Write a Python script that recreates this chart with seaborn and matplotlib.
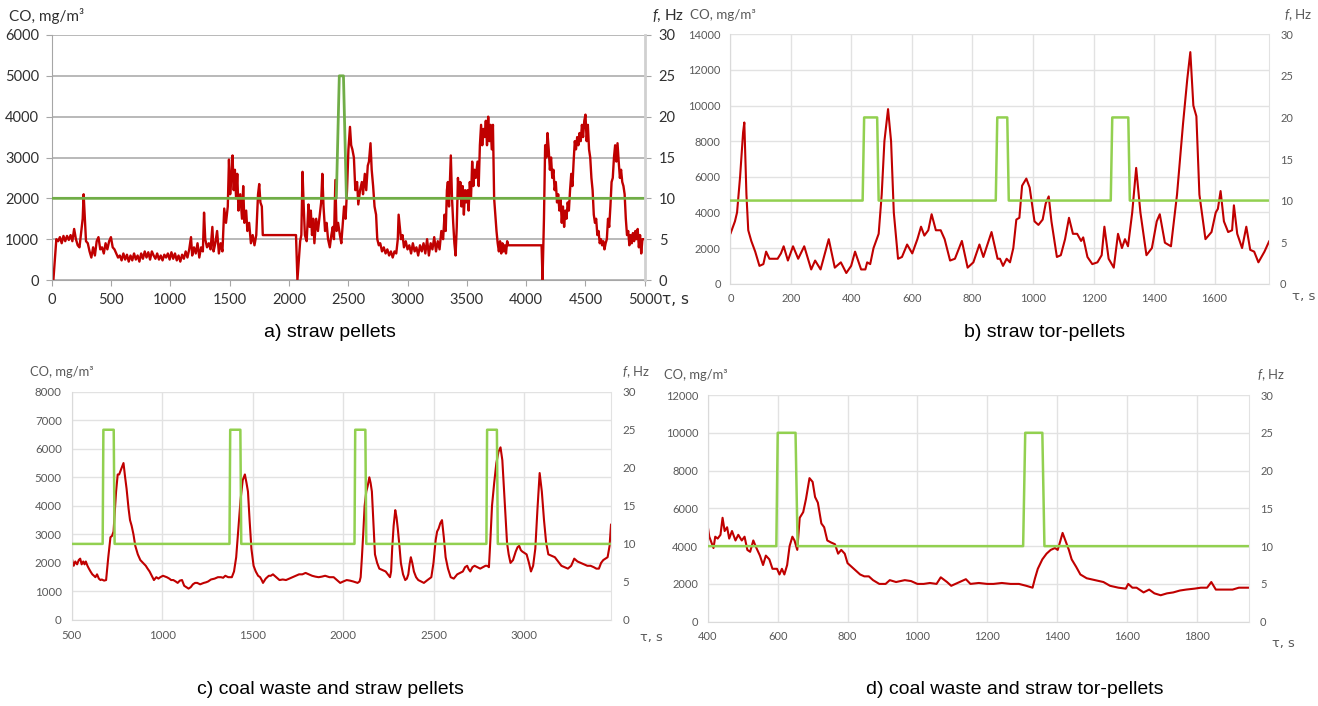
import matplotlib
matplotlib.use("Agg")
import matplotlib.pyplot as plt
import seaborn as sns
import pandas as pd

# ---------------- data (time s, CO mg/m3) ----------------
A_CO = [(0,0),(15,0),(40,1000),(55,950),(70,1050),(85,900),(100,1080),(115,950),(130,1080),(145,980),
(160,1100),(175,950),(190,1250),(205,1000),(220,850),(235,800),(250,1200),(262,1500),(270,2100),(280,1500),
(290,950),(305,900),(320,700),(335,550),(350,800),(365,600),(380,950),(395,1050),(410,750),(425,800),
(440,650),(455,900),(470,750),(485,950),(500,1050),(515,800),(530,750),(545,650),(560,550),(575,600),
(590,480),(605,650),(620,500),(635,620),(650,450),(665,600),(680,480),(695,650),(710,500),(725,600),
(740,450),(755,650),(770,520),(785,700),(800,550),(815,680),(830,500),(845,700),(860,600),(875,520),
(890,650),(905,500),(920,600),(935,480),(950,620),(965,550),(980,650),(995,500),(1010,680),(1025,520),
(1040,650),(1055,480),(1070,600),(1085,450),(1100,620),(1115,520),(1130,700),(1145,550),(1160,750),(1175,1050),
(1185,600),(1200,800),(1215,650),(1230,900),(1245,550),(1260,800),(1275,700),(1285,1650),(1295,1000),(1310,800),
(1325,900),(1340,750),(1355,1300),(1365,700),(1380,900),(1395,1200),(1410,650),(1425,900),(1440,700),(1455,1750),
(1470,1400),(1485,1800),(1495,2950),(1505,2100),(1515,2500),(1525,3050),(1535,2200),(1545,2700),(1555,2000),(1565,2600),
(1575,1700),(1590,2100),(1605,1500),(1615,2300),(1625,1400),(1640,1700),(1650,1200),(1665,1400),(1680,900),(1695,1100),
(1710,850),(1725,1100),(1740,2100),(1750,2350),(1760,1900),(1772,1800),(1780,1100),(2060,1100),(2072,0),(2095,950),
(2105,1100),(2115,2650),(2125,1800),(2135,1100),(2150,950),(2165,1850),(2175,1300),(2185,1700),(2195,1100),(2205,1500),
(2215,900),(2230,1500),(2245,1200),(2260,1600),(2272,1900),(2282,2600),(2292,1800),(2305,1200),(2318,1400),(2330,1000),
(2345,800),(2358,1100),(2370,1300),(2380,1000),(2392,2450),(2402,1200),(2415,1400),(2430,1100),(2442,900),(2455,1400),
(2465,1800),(2478,1500),(2490,2200),(2502,3200),(2515,3750),(2525,3300),(2535,3200),(2548,3000),(2560,2200),(2575,2400),
(2585,1850),(2600,2200),(2615,2400),(2625,2100),(2640,2600),(2652,2200),(2665,2800),(2675,2900),(2688,3350),(2698,2700),
(2710,2300),(2722,1800),(2735,1600),(2745,1000),(2758,850),(2770,900),(2785,700),(2800,800),(2815,650),(2830,750),
(2845,600),(2860,700),(2875,550),(2890,700),(2905,650),(2918,1000),(2925,1600),(2935,1300),(2945,1000),(2958,1100),
(2970,800),(2985,950),(3000,750),(3015,850),(3030,650),(3045,900),(3060,700),(3075,800),(3090,600),(3105,850),
(3120,700),(3135,900),(3150,650),(3165,1000),(3180,600),(3195,900),(3210,750),(3225,1050),(3240,700),(3255,950),
(3270,750),(3285,1200),(3300,1000),(3312,1600),(3322,1200),(3332,2200),(3340,2400),(3350,1800),(3365,3050),(3375,2000),
(3385,1400),(3395,900),(3405,600),(3415,1300),(3425,2500),(3435,2000),(3445,2400),(3455,1800),(3465,2300),(3475,1600),
(3485,2200),(3495,1900),(3505,2200),(3515,1700),(3525,2400),(3535,2000),(3545,2900),(3555,2300),(3565,2700),(3575,2500),
(3590,2900),(3600,2300),(3610,3300),(3620,3800),(3630,3300),(3640,3700),(3650,3500),(3660,3900),(3670,3300),(3680,4000),
(3690,3400),(3700,3800),(3710,3200),(3720,3800),(3730,2000),(3740,1600),(3750,1200),(3760,900),(3770,700),(3780,950),
(3790,650),(3800,900),(3810,700),(3820,850),(3830,650),(3840,950),(3850,850),(4130,850),(4138,0),(4150,1500),
(4160,3300),(4170,3000),(4180,3600),(4190,3200),(4200,2700),(4210,3000),(4220,2500),(4230,2700),(4240,2200),(4250,2400),
(4260,1900),(4270,2100),(4280,1700),(4290,2000),(4300,1400),(4310,1800),(4320,1300),(4330,1700),(4340,1500),(4350,1900),
(4360,1700),(4370,2200),(4380,2600),(4390,2300),(4400,2900),(4410,3400),(4420,3200),(4430,3500),(4440,3300),(4450,3600),
(4460,3400),(4470,3800),(4480,3500),(4490,3900),(4500,4050),(4510,3400),(4520,3800),(4530,3200),(4540,3000),(4550,2500),
(4560,2200),(4570,1600),(4580,1400),(4590,1500),(4600,1100),(4610,1200),(4620,900),(4630,1000),(4640,850),(4650,950),
(4660,750),(4670,900),(4680,1000),(4690,1500),(4700,1300),(4710,1800),(4720,2400),(4730,2500),(4740,3000),(4750,3300),
(4760,2900),(4770,3350),(4780,2900),(4790,2500),(4800,2700),(4810,2400),(4820,2300),(4830,2100),(4840,1500),(4850,1100),
(4860,1200),(4870,850),(4880,1100),(4890,900),(4900,1150),(4910,950),(4920,1200),(4930,1000),(4940,1250),(4950,800),
(4960,1100),(4970,650),(4980,1000),(4995,1000)]
A_F = [(0,10),(2400,10),(2425,25),(2460,25),(2485,10),(5000,10)]

B_CO = [(0,2800),(15,3500),(22,4000),(32,6000),(42,8500),(46,9050),(53,5000),(59,3000),(69,2400),(82,1800),
(96,1000),(109,1100),(118,1800),(129,1400),(156,1400),(167,1700),(176,2100),(190,1300),(207,2100),(224,1400),
(244,2100),(267,800),(280,1300),(298,800),(325,2500),(345,900),(365,1200),(383,600),(399,1000),(412,1800),
(432,800),(446,800),(452,1200),(462,1100),(473,2000),(490,2800),(500,5000),(509,8000),(521,9800),(531,8000),
(540,4000),(554,1400),(567,1500),(584,2200),(601,1700),(618,2500),(630,3200),(641,2700),(654,3000),(665,3900),
(679,3000),(695,3000),(708,2500),(726,1300),(742,1400),(765,2400),(784,900),(803,1200),(823,2200),(836,1500),
(863,2900),(883,1400),(891,1400),(901,1000),(913,1400),(924,1200),(935,2000),(945,3600),(955,3700),(964,5500),
(978,5900),(989,5400),(1005,3500),(1018,3300),(1032,3600),(1042,4500),(1052,4900),(1061,3500),(1079,1500),(1092,1600),
(1106,2500),(1119,3700),(1132,2800),(1146,2800),(1159,2400),(1166,2600),(1180,1500),(1196,1100),(1213,1200),(1227,1600),
(1236,3200),(1250,1400),(1267,900),(1281,2800),(1294,2000),(1304,2500),(1314,2100),(1328,4000),(1341,6500),(1355,4000),
(1375,1600),(1393,2000),(1409,3500),(1419,3900),(1436,2300),(1456,2100),(1476,5000),(1496,9000),(1510,11500),(1520,13000),
(1530,10000),(1540,9400),(1550,5000),(1570,2500),(1590,2900),(1604,4000),(1611,4200),(1620,5200),(1631,3500),(1645,2900),
(1658,3000),(1664,4400),(1675,2800),(1691,2000),(1705,3200),(1718,1900),(1731,1800),(1745,1200),(1765,1800),(1781,2400)]
B_F = [(0,10),(437,10),(442,20),(485,20),(490,10),(877,10),(882,20),(915,20),(920,10),
(1257,10),(1262,20),(1315,20),(1320,10),(1780,10)]

C_CO = [(500,2200),(512,1900),(521,2050),(531,1950),(540,2100),(548,2150),(556,1950),(565,2050),(572,1950),(579,2050),
(588,1900),(596,1800),(605,1700),(615,1600),(624,1550),(632,1500),(641,1600),(651,1450),(660,1400),(667,1420),
(680,1380),(691,1400),(703,2200),(715,2900),(724,2950),(732,3100),(746,4500),(755,5100),(763,5100),(775,5300),
(787,5500),(796,5000),(804,4600),(815,3900),(823,3500),(832,3300),(842,3000),(852,2600),(866,2300),(880,2100),
(895,2000),(910,1900),(920,1800),(931,1700),(943,1550),(955,1400),(968,1500),(980,1450),(990,1500),(1005,1550),
(1026,1500),(1040,1450),(1050,1400),(1062,1400),(1075,1350),(1086,1300),(1098,1380),(1110,1400),(1122,1200),(1134,1150),
(1146,1100),(1158,1150),(1170,1250),(1182,1300),(1194,1300),(1210,1250),(1230,1300),(1242,1320),(1254,1350),(1270,1420),
(1290,1450),(1308,1500),(1325,1500),(1337,1480),(1349,1550),(1365,1500),(1385,1500),(1397,1700),(1409,2200),(1421,3200),
(1433,4200),(1445,4900),(1457,5100),(1466,4800),(1474,4500),(1483,3500),(1493,2500),(1505,1900),(1517,1700),(1530,1550),
(1541,1500),(1550,1400),(1557,1300),(1572,1450),(1589,1550),(1600,1550),(1612,1600),(1630,1500),(1648,1400),(1666,1420),
(1684,1400),(1702,1450),(1720,1500),(1738,1550),(1756,1600),(1774,1600),(1792,1650),(1810,1600),(1828,1550),(1846,1520),
(1864,1500),(1882,1520),(1900,1550),(1924,1500),(1947,1500),(1965,1400),(1983,1300),(2000,1350),(2019,1400),(2037,1380),
(2055,1350),(2070,1320),(2079,1300),(2090,1350),(2096,1500),(2103,2200),(2110,3000),(2118,4000),(2127,4500),(2135,4700),
(2144,5000),(2151,4800),(2158,4500),(2166,3500),(2175,2300),(2187,2000),(2199,1800),(2216,1750),(2234,1700),(2246,1600),
(2258,1500),(2264,1700),(2270,2500),(2278,3300),(2287,3850),(2294,3600),(2301,3200),(2310,2600),(2318,2000),(2330,1600),
(2342,1400),(2351,1450),(2359,1600),(2366,1950),(2373,2200),(2381,2000),(2390,1700),(2402,1500),(2414,1400),(2430,1350),
(2445,1300),(2465,1400),(2486,1500),(2498,2000),(2510,2800),(2518,3100),(2526,3200),(2536,3400),(2545,3500),(2555,2900),
(2565,2200),(2578,1800),(2593,1500),(2610,1450),(2629,1600),(2645,1650),(2660,1700),(2672,1850),(2684,1900),(2692,1780),
(2701,1700),(2713,1850),(2725,1900),(2740,1850),(2756,1800),(2770,1850),(2785,1900),(2795,1900),(2804,1850),(2812,2800),
(2821,4000),(2833,4800),(2845,5500),(2857,5900),(2868,6050),(2878,5600),(2888,4500),(2896,3600),(2904,2700),(2913,2300),
(2923,2000),(2937,2100),(2952,2400),(2962,2550),(2971,2600),(2980,2450),(2988,2400),(3000,2350),(3012,2300),(3025,2000),
(3036,1700),(3048,1900),(3060,2500),(3072,3900),(3084,5150),(3096,4500),(3108,3500),(3120,2700),(3132,2300),(3150,2250),
(3168,2200),(3186,2050),(3204,1900),(3222,1850),(3240,1800),(3258,1900),(3275,2150),(3293,2050),(3311,2000),(3329,1950),
(3347,1900),(3365,1900),(3383,1850),(3397,1800),(3411,1800),(3423,2000),(3435,2100),(3447,2150),(3459,2200),(3470,2600),
(3478,3350)]
C_F = [(500,10),(672,10),(676,25),(733,25),(738,10),(1372,10),(1376,25),(1432,25),(1437,10),
(2062,10),(2066,25),(2122,25),(2127,10),(2790,10),(2794,25),(2848,25),(2853,10),(3480,10)]

D_CO = [(400,5000),(404,4500),(410,4200),(416,3900),(421,4500),(428,4400),(436,4600),(442,5500),(448,4800),(455,5000),
(461,4400),(469,4800),(479,4300),(487,4600),(497,4300),(505,4500),(513,3800),(521,3700),(530,4300),(539,3900),
(549,3500),(558,3000),(566,3500),(576,3300),(585,2800),(598,2800),(605,2500),(612,2800),(619,2500),(627,3000),
(634,4000),(642,4500),(648,4300),(656,3800),(663,5500),(673,5800),(681,6500),(691,7600),(700,7400),(707,6600),
(715,6300),(725,5200),(733,5000),(742,4300),(752,4200),(764,4100),(773,3600),(782,3800),(792,3600),(800,3100),
(812,2900),(824,2700),(836,2500),(848,2400),(861,2400),(873,2200),(891,2000),(909,2000),(921,2200),(939,2100),
(964,2200),(982,2150),(1000,2000),(1018,2000),(1036,2050),(1055,2000),(1067,2350),(1085,2100),(1097,1900),(1121,2100),
(1139,2250),(1152,2000),(1176,2050),(1200,2000),(1218,2000),(1242,2050),(1267,2000),(1291,2000),(1312,1900),(1330,1800),
(1337,2300),(1345,2800),(1358,3300),(1370,3600),(1382,3800),(1394,3900),(1402,3800),(1410,4300),(1416,4700),(1424,4300),
(1434,3800),(1442,3300),(1455,2900),(1467,2500),(1485,2300),(1509,2200),(1533,2100),(1552,1900),(1576,1800),(1597,1750),
(1604,2000),(1616,1800),(1628,1800),(1640,1650),(1648,1550),(1664,1700),(1679,1500),(1697,1400),(1715,1500),(1733,1550),
(1752,1650),(1770,1700),(1794,1750),(1812,1800),(1830,1800),(1842,2100),(1855,1700),(1879,1700),(1903,1700),(1921,1800),
(1939,1800),(1950,1800)]
D_F = [(400,10),(596,10),(600,25),(651,25),(657,10),(1303,10),(1309,25),(1358,25),(1364,10),(1950,10)]

CAPTIONS = ["a) straw pellets", "b) straw tor-pellets",
            "c) coal waste and straw pellets", "d) coal waste and straw tor-pellets"]

# ---------------- style ----------------
sns.set_style("white")
plt.rcParams["font.family"] = ["Lato", "DejaVu Sans"]
plt.rcParams["mathtext.fontset"] = "custom"
plt.rcParams["mathtext.it"] = "Lato:italic"
plt.rcParams["mathtext.rm"] = "Lato"
plt.rcParams["lines.solid_joinstyle"] = "round"

W, H = 1318, 706
RED = "#C00000"
fig = plt.figure(figsize=(W / 100, H / 100), dpi=100)


def box(l, r, t, b):
    return fig.add_axes([l / W, 1 - b / H, (r - l) / W, (b - t) / H])


def panel(rect, co, fr, xlim, xticks, ymax, ystep, kind, green, lab_pos, fsize, lsize):
    ax = box(*rect)
    d1 = pd.DataFrame(co, columns=["t", "co"])
    d2 = pd.DataFrame(fr, columns=["t", "f"])
    sns.lineplot(data=d1, x="t", y="co", ax=ax, color=RED,
                 linewidth=1.7 if kind == "a" else 1.5, estimator=None, sort=False)
    ax2 = ax.twinx()
    sns.lineplot(data=d2, x="t", y="f", ax=ax2, color=green,
                 linewidth=2.0 if kind == "a" else 1.8, estimator=None, sort=False)
    ax.set_xlim(*xlim)
    ax.set_ylim(0, ymax)
    ax.set_yticks(range(0, ymax + 1, ystep))
    ax.set_xticks(xticks)
    ax2.set_ylim(0, 30)
    ax2.set_yticks(range(0, 31, 5))
    for a in (ax, ax2):
        a.set_xlabel("")
        a.set_ylabel("")
        for s in a.spines.values():
            s.set_visible(False)
    tcol = "#303030" if kind == "a" else "#595959"
    if kind == "a":
        ax.grid(axis="y", color="#A6A6A6", linewidth=1.1)
        ax.grid(axis="x", visible=False)
        ax.spines["left"].set_visible(True)
        ax.spines["left"].set_color("#A6A6A6")
        ax.spines["bottom"].set_visible(True)
        ax.spines["bottom"].set_color("#A6A6A6")
        ax2.spines["right"].set_visible(True)
        ax2.spines["right"].set_color("#D0D0D0")
        ax2.spines["right"].set_linewidth(2)
        ax.tick_params(axis="both", length=4, color="#A6A6A6", labelsize=fsize,
                       labelcolor=tcol, pad=5, direction="out", bottom=True, left=True)
        ax2.tick_params(axis="y", length=4, color="#A6A6A6", labelsize=fsize,
                        labelcolor=tcol, pad=6, direction="out", right=True)
    else:
        ax.grid(True, color="#E2E2E2", linewidth=1.0)
        ax.spines["left"].set_visible(True)
        ax.spines["left"].set_color("#DADADA")
        ax.spines["bottom"].set_visible(True)
        ax.spines["bottom"].set_color("#DADADA")
        ax2.spines["right"].set_visible(True)
        ax2.spines["right"].set_color("#E2E2E2")
        ax.tick_params(axis="both", length=0, labelsize=fsize, labelcolor=tcol, pad=7)
        ax2.tick_params(axis="y", length=0, labelsize=fsize, labelcolor=tcol, pad=8)
    ax2.grid(False)
    (cx, cy), (fx, fy), (tx, ty) = lab_pos
    fig.text(cx / W, 1 - cy / H, "CO, mg/m³", fontsize=lsize, color=tcol, va="center", ha="left")
    fig.text(fx / W, 1 - fy / H, r"$f$, Hz", fontsize=lsize, color=tcol, va="center", ha="left")
    fig.text(tx / W, 1 - ty / H, "τ, s", fontsize=lsize, color=tcol, va="center", ha="left",
             family=["DejaVu Sans"])
    return ax


panel((51.6, 644.8, 35, 280), A_CO, A_F, (0, 5000), range(0, 5001, 500), 6000, 1000, "a",
      "#70AD47", ((9, 16), (652, 16), (662, 300)), 10.5, 11)
panel((730.4, 1269, 34.3, 283.7), B_CO, B_F, (0, 1780), range(0, 1601, 200), 14000, 2000, "b",
      "#92D050", ((690, 15), (1284, 15), (1292, 297)), 8.0, 9.6)
panel((71.5, 611.4, 391.7, 620), C_CO, C_F, (500, 3480), range(500, 3001, 500), 8000, 1000, "c",
      "#92D050", ((30, 372), (622, 372), (640, 638)), 8.3, 9.4)
panel((707.9, 1249, 395, 621.7), D_CO, D_F, (400, 1950), range(400, 1801, 200), 12000, 2000, "d",
      "#92D050", ((664, 375), (1257, 375), (1272, 643)), 8.0, 9.4)

for (x, y), txt in zip([(330, 333), (1045, 333), (330, 690), (1015, 690)], CAPTIONS):
    fig.text(x / W, 1 - y / H, txt, fontsize=14, color="black", ha="center", va="center",
             family=["Liberation Sans", "DejaVu Sans"])

fig.savefig("out.png", dpi=100)
